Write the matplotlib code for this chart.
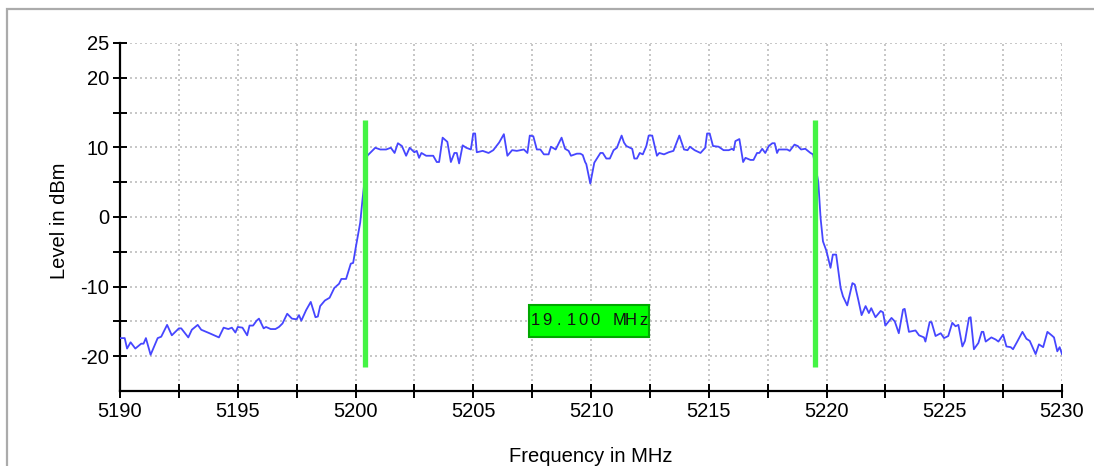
import matplotlib.pyplot as plt
import numpy as np
from matplotlib.patches import Rectangle
from matplotlib.ticker import MultipleLocator

plt.rcParams['font.family'] = ['Liberation Sans', 'DejaVu Sans']

# spectrum trace (MHz, dBm)
freq_mhz = [
    5190.0, 5190.2, 5190.3, 5190.45, 5190.65, 5190.9, 5191.0, 5191.1, 5191.3, 5191.6,
    5191.75, 5192.0, 5192.2, 5192.5, 5192.6, 5192.9, 5193.05, 5193.3, 5193.45, 5193.8,
    5194.2, 5194.4, 5194.6, 5194.75, 5194.9, 5195.0, 5195.2, 5195.4, 5195.5, 5195.65,
    5195.8, 5195.9, 5196.1, 5196.2, 5196.4, 5196.6, 5196.75, 5196.9, 5197.1, 5197.3,
    5197.5, 5197.6, 5197.7, 5197.9, 5198.1, 5198.3, 5198.4, 5198.5, 5198.7, 5198.9,
    5199.1, 5199.3, 5199.4, 5199.6, 5199.8, 5199.9, 5200.0, 5200.2, 5200.3, 5200.5,
    5200.84, 5201.05, 5201.3, 5201.5, 5201.66, 5201.8, 5201.97, 5202.15, 5202.3, 5202.5,
    5202.6, 5202.7, 5202.8, 5203.0, 5203.3, 5203.45, 5203.55, 5203.7, 5203.9, 5204.05,
    5204.2, 5204.3, 5204.4, 5204.55, 5204.7, 5204.9, 5205.0, 5205.08, 5205.15, 5205.4,
    5205.65, 5205.85, 5206.1, 5206.3, 5206.45, 5206.65, 5206.85, 5207.15, 5207.3, 5207.4,
    5207.55, 5207.7, 5207.85, 5208.0, 5208.2, 5208.3, 5208.5, 5208.75, 5208.9, 5209.05,
    5209.15, 5209.4, 5209.55, 5209.65, 5209.75, 5209.8, 5209.97, 5210.14, 5210.4, 5210.5,
    5210.65, 5210.8, 5210.96, 5211.1, 5211.3, 5211.4, 5211.5, 5211.75, 5211.84, 5211.95,
    5212.07, 5212.2, 5212.35, 5212.45, 5212.6, 5212.8, 5212.9, 5213.1, 5213.3, 5213.5,
    5213.75, 5213.95, 5214.1, 5214.2, 5214.4, 5214.65, 5214.85, 5214.93, 5215.04, 5215.18,
    5215.42, 5215.63, 5215.85, 5215.99, 5216.06, 5216.13, 5216.3, 5216.46, 5216.56, 5216.77,
    5216.9, 5217.05, 5217.15, 5217.27, 5217.4, 5217.55, 5217.7, 5217.8, 5217.9, 5217.97,
    5218.33, 5218.44, 5218.64, 5218.78, 5218.92, 5219.1, 5219.32, 5219.43, 5219.65, 5219.75,
    5219.85, 5220.0, 5220.17, 5220.27, 5220.41, 5220.6, 5220.7, 5220.88, 5221.1, 5221.2,
    5221.35, 5221.49, 5221.66, 5221.8, 5221.9, 5222.08, 5222.3, 5222.4, 5222.5, 5222.76,
    5222.9, 5223.07, 5223.25, 5223.32, 5223.5, 5223.78, 5223.93, 5224.14, 5224.2, 5224.38,
    5224.46, 5224.63, 5224.85, 5224.99, 5225.17, 5225.34, 5225.48, 5225.6, 5225.77, 5225.88,
    5226.05, 5226.12, 5226.26, 5226.45, 5226.59, 5226.66, 5226.76, 5227.0, 5227.18, 5227.3,
    5227.5, 5227.64, 5227.82, 5227.92, 5228.1, 5228.32, 5228.49, 5228.63, 5228.88, 5229.02,
    5229.2, 5229.38, 5229.56, 5229.66, 5229.8, 5229.9, 5230.0,
]
level_dbm = [
    -17.4, -17.4, -18.9, -18.0, -18.9, -18.2, -18.2, -17.4, -19.8, -17.4,
    -17.2, -15.5, -17.0, -16.0, -16.0, -17.3, -16.2, -15.5, -16.2, -16.7,
    -17.3, -15.9, -16.1, -15.9, -16.6, -15.8, -15.9, -17.0, -15.6, -15.6,
    -14.9, -14.6, -16.0, -15.8, -16.1, -16.1, -15.8, -15.3, -13.9, -14.6,
    -14.7, -14.1, -14.9, -13.4, -12.2, -14.4, -14.3, -12.8, -12.0, -11.6,
    -10.2, -9.6, -8.9, -8.9, -6.7, -6.6, -4.6, -0.8, 2.6, 8.8,
    9.95, 9.7, 9.7, 9.95, 9.2, 10.6, 10.2, 8.8, 9.95, 9.3,
    9.5, 8.5, 9.2, 8.8, 8.8, 7.9, 7.9, 11.4, 10.8, 7.9,
    9.2, 9.2, 7.7, 10.3, 9.95, 9.7, 12.0, 12.0, 9.3, 9.5,
    9.2, 9.6, 10.7, 11.9, 8.8, 9.6, 9.5, 9.7, 9.2, 11.7,
    11.6, 9.7, 9.7, 9.0, 9.0, 10.1, 9.7, 11.4, 9.8, 9.5,
    8.8, 9.1, 9.1, 8.9, 7.9, 7.6, 4.8, 7.8, 9.2, 9.2,
    8.4, 8.4, 9.6, 9.95, 11.7, 10.7, 10.2, 9.8, 8.4, 8.4,
    9.2, 9.0, 10.2, 11.7, 11.7, 8.8, 9.2, 9.0, 9.3, 9.5,
    11.7, 9.7, 9.6, 10.1, 9.6, 9.2, 9.95, 12.0, 12.0, 10.2,
    10.1, 9.6, 9.6, 9.8, 9.6, 10.9, 11.2, 7.9, 8.5, 8.2,
    8.2, 9.2, 9.2, 9.8, 9.2, 10.2, 10.6, 10.6, 9.2, 9.7,
    9.7, 9.5, 10.4, 10.2, 9.7, 9.8, 9.2, 9.0, 5.1, -0.2,
    -3.5, -4.9, -7.3, -5.4, -5.4, -10.2, -11.4, -12.7, -9.5, -9.7,
    -11.9, -14.1, -12.8, -13.8, -13.1, -14.4, -13.5, -13.7, -15.6, -14.5,
    -15.0, -16.7, -13.3, -13.2, -16.5, -16.3, -17.0, -17.3, -17.9, -15.1,
    -15.1, -17.1, -16.7, -17.4, -17.1, -15.2, -15.7, -15.5, -18.6, -17.8,
    -14.5, -14.4, -19.0, -18.1, -16.5, -16.5, -17.9, -17.3, -17.6, -17.9,
    -16.9, -18.6, -18.7, -19.0, -17.9, -16.5, -17.5, -17.8, -19.7, -18.3,
    -18.7, -16.5, -17.0, -17.3, -19.3, -18.7, -19.7,
]

# bandwidth markers
marker_freqs = [5200.4, 5219.5]
marker_low, marker_high = -21.5, 14.0
bandwidth_label = "19.100 MHz"

ytick_values = [-20, -15, -10, -5, 0, 5, 10, 15, 20, 25]
ytick_labels = ["-20", "", "-10", "", "0", "", "10", "", "20", "25"]

fig = plt.figure(figsize=(10.94, 4.66), dpi=100)
ax = fig.add_axes([120 / 1094, 1 - 391 / 466, 942 / 1094, 348 / 466])

# grey frame of the instrument window
fig.add_artist(Rectangle((7 / 1094, -0.2), 2.0, 1.2 - 9 / 466,
                         transform=fig.transFigure, fill=False,
                         edgecolor="#ababab", linewidth=1.6))

ax.plot(freq_mhz, level_dbm, color="#4646ff", linewidth=1.3, zorder=3)

for f in marker_freqs:
    ax.plot([f, f], [marker_low, marker_high], color="#44f444",
            linewidth=3.8, solid_capstyle="butt", zorder=4)

# label box between the markers
box_x0, box_x1 = 5207.38, 5212.48
box_y0, box_y1 = -17.2, -12.6
ax.add_patch(Rectangle((box_x0, box_y0), box_x1 - box_x0, box_y1 - box_y0,
                       facecolor="#00ff00", edgecolor="#00a800",
                       linewidth=1.5, zorder=5))
# the instrument spaces the characters out evenly across the box
char_x = np.linspace(box_x0 + 0.25, box_x1 - 0.27, len(bandwidth_label))
for cx, ch in zip(char_x, bandwidth_label):
    if ch != " ":
        ax.text(cx, (box_y0 + box_y1) / 2, ch, ha="center", va="center",
                fontsize=12, color="#101010", zorder=6)

ax.set_xlim(5190, 5230)
ax.set_ylim(-25, 25)
ax.xaxis.set_major_locator(MultipleLocator(5))
ax.xaxis.set_minor_locator(MultipleLocator(2.5))
ax.set_yticks(ytick_values, ytick_labels)

for s in ("top", "right"):
    ax.spines[s].set_visible(False)
for s in ("left", "bottom"):
    ax.spines[s].set_linewidth(1.6)

ax.tick_params(which="both", direction="inout", length=10, width=1.4,
               labelsize=14.5, color="black")
ax.tick_params(axis="y", pad=3)
ax.tick_params(axis="x", pad=3)

grid_kw = dict(color="#bdbdbd", linestyle=(0, (1.2, 1.8)), linewidth=1.2)
ax.grid(True, which="both", axis="x", **grid_kw)
ax.grid(True, which="major", axis="y", **grid_kw)
ax.set_axisbelow(True)

ax.set_ylabel("Level in dBm", fontsize=14.5, va="center")
ax.yaxis.set_label_coords(-0.0637, 0.49)
ax.set_xlabel("Frequency in MHz", fontsize=14.5)
ax.xaxis.set_label_coords(0.5, -0.161)

fig.savefig("out.png", dpi=100)
